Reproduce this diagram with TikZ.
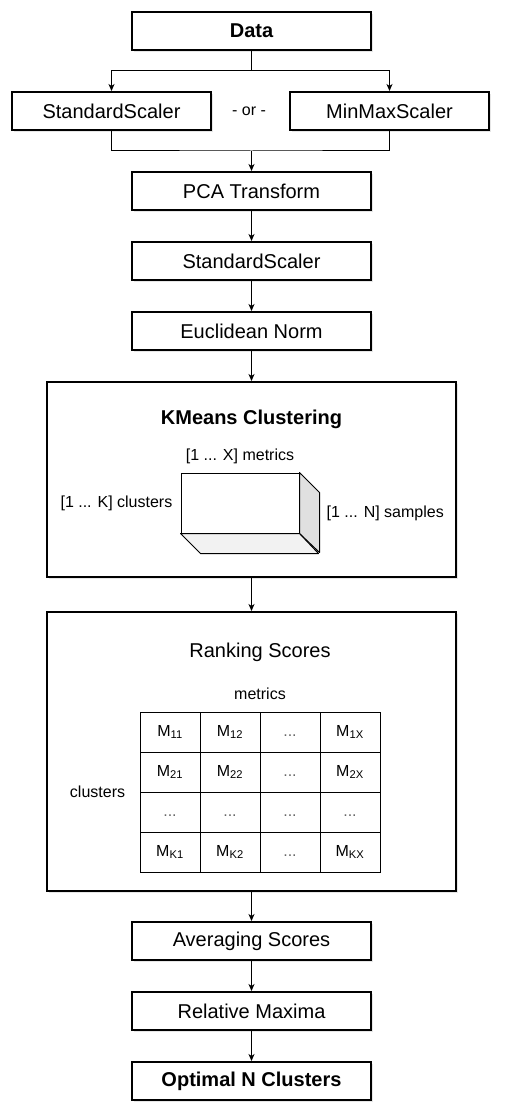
\documentclass[tikz,border=0pt]{standalone}
\usepackage{fontspec}
\setmainfont{Liberation Sans}
\usetikzlibrary{arrows.meta, positioning, matrix, shadows}

\begin{document}
\begin{tikzpicture}[
  x=1pt, y=-1pt,
  font=\fontsize{20}{24}\selectfont,
  box/.style={draw, line width=2pt, fill=white, minimum width=239pt, minimum height=38pt, inner sep=0pt,
    drop shadow={shadow xshift=2pt, shadow yshift=-2pt, opacity=0.2}},
  head/.style={box, font=\fontsize{20}{24}\selectfont\bfseries},
  scaler/.style={box, minimum width=199pt},
  frame/.style={draw, line width=2pt, fill=white, minimum width=409pt, inner sep=0pt,
    drop shadow={shadow xshift=2pt, shadow yshift=-2pt, opacity=0.2}},
  lbl/.style={font=\fontsize{16}{19}\selectfont, inner sep=0pt},
  cell/.style={draw, line width=1pt, minimum width=60pt, minimum height=40pt, inner sep=0pt,
    text height=12pt, text depth=4pt, font=\fontsize{16}{19}\selectfont},
  dotcell/.style={text=black!60},
  conn/.style={line width=1pt},
  arr/.style={-{Stealth[length=7pt, width=6pt, inset=2pt]}, line width=1pt},
]
\useasboundingbox (0,0) rectangle (506,1118);

% scaling
\node[head] (data) at (251.5,31) {Data};
\node[scaler, below=40pt of data, xshift=-140pt] (ss) {StandardScaler};
\node[scaler, below=40pt of data, xshift=138pt] (mm) {MinMaxScaler};
\node[lbl, right=20pt of ss] (or) {- or -};
\coordinate[below=20pt of data.south] (split);
\path (data.south |- ss.south) ++(0,20) coordinate (join);

% preprocessing chain
\node[box, below=20pt of join] (pca) {PCA Transform};
\node[box, below=30pt of pca] (sc2) {StandardScaler};
\node[box, below=30pt of sc2] (norm) {Euclidean Norm};

% clustering
\node[frame, below=30pt of norm, minimum height=195pt] (km) {};
\node[font=\fontsize{20}{24}\selectfont\bfseries] (kmtitle) at ([yshift=-38pt]km.north) {KMeans Clustering};
\node[draw, line width=1pt, minimum width=118pt, minimum height=60pt, inner sep=0pt] (front) at ([xshift=-11.5pt, yshift=-122pt]km.north) {};
\filldraw[fill=black!12, line width=1pt, line join=round] (front.north east) -- ++(20,20) -- ++(0,60) -- (front.south east) -- cycle;
\filldraw[fill=black!5, line width=1pt, line join=round] (front.south west) -- ++(20,20) -- ++(118,0) -- (front.south east) -- cycle;
\node[lbl, above=8pt of front] (dimx) {[1 ... X] metrics};
\node[lbl, left=8pt of front] (dimk) {[1 ... K] clusters};
\node[lbl, anchor=west] (dimn) at ([xshift=27pt, yshift=-10pt]front.east) {[1 ... N] samples};

% ranking
\node[frame, below=33pt of km, minimum height=279pt] (rank) {};
\node (ranktitle) at ([xshift=8.5pt, yshift=-41pt]rank.north) {Ranking Scores};
\matrix (tab) [matrix of nodes, nodes={cell}, column sep=-1pt, row sep=-1pt, inner sep=0pt]
  at ([xshift=8.5pt, yshift=-40.5pt]rank.center) {
  M\textsubscript{11} & M\textsubscript{12} & |[dotcell]| ... & M\textsubscript{1X} \\
  M\textsubscript{21} & M\textsubscript{22} & |[dotcell]| ... & M\textsubscript{2X} \\
  |[dotcell]| ... & |[dotcell]| ... & |[dotcell]| ... & |[dotcell]| ... \\
  M\textsubscript{K1} & M\textsubscript{K2} & |[dotcell]| ... & M\textsubscript{KX} \\
};
\node[lbl, above=11pt of tab] (tabcols) {metrics};
\node[lbl, left=14pt of tab] (tabrows) {clusters};

% result
\node[box, below=29pt of rank] (avg) {Averaging Scores};
\node[box, below=30pt of avg] (rel) {Relative Maxima};
\node[head, below=30pt of rel] (opt) {Optimal N Clusters};

\draw[conn] (data.south) -- (split);
\draw[arr] (split) -| (ss.north);
\draw[arr] (split) -| (mm.north);
\draw[conn] (ss.south) |- (join) -| (mm.south);
\draw[arr] (join) -- (pca.north);
\draw[arr] (pca.south) -- (sc2.north);
\draw[arr] (sc2.south) -- (norm.north);
\draw[arr] (norm.south) -- (km.north);
\draw[arr] (km.south) -- (rank.north);
\draw[arr] (rank.south) -- (avg.north);
\draw[arr] (avg.south) -- (rel.north);
\draw[arr] (rel.south) -- (opt.north);
\end{tikzpicture}
\end{document}
